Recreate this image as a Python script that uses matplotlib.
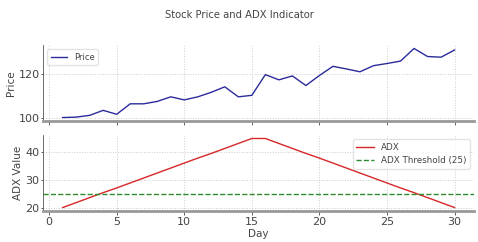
import matplotlib.pyplot as plt

# days and values
days = list(range(1, 31))
price = [100.0, 100.2, 101.0, 103.3, 101.5, 106.3, 106.3, 107.4, 109.5, 108.1,
         109.5, 111.6, 114.1, 109.5, 110.2, 119.7, 117.3, 119.1, 114.7, 119.3,
         123.5, 122.3, 121.0, 123.8, 124.8, 125.9, 131.7, 128.0, 127.7, 131.0]
adx = [20.0, 21.8, 23.6, 25.4, 27.1, 28.9, 30.7, 32.5, 34.3, 36.1,
       37.9, 39.6, 41.4, 43.2, 45.0, 45.0, 43.2, 41.4, 39.6, 37.9,
       36.1, 34.3, 32.5, 30.7, 28.9, 27.1, 25.4, 23.6, 21.8, 20.0]
threshold = 25

text_col = '#444444'
plt.rcParams['font.family'] = 'DejaVu Sans'
plt.rcParams['font.size'] = 7

fig = plt.figure(figsize=(4.78, 2.42), dpi=100)
ax1 = fig.add_axes([0.09, 0.50, 0.902, 0.314])
ax2 = fig.add_axes([0.09, 0.128, 0.902, 0.314], sharex=ax1)

ax1.plot(days, price, color='#2b2b9c', lw=1.0, label='Price')
ax2.plot(days, adx, color='#d62728', lw=1.0, label='ADX')
ax2.axhline(threshold, color='#2e8b2e', ls='--', lw=1.0, label='ADX Threshold (25)')

ax1.set_ylabel('Price', color=text_col, fontsize=7.5, labelpad=2)
ax2.set_ylabel('ADX Value', color=text_col, fontsize=7.5, labelpad=2)
ax2.set_xlabel('Day', color=text_col, fontsize=7.5, labelpad=1)
ax2.set_xticks([0, 5, 10, 15, 20, 25, 30])
ax2.set_yticks([20, 30, 40])
ax1.set_yticks([100, 120])
plt.setp(ax1.get_xticklabels(), visible=False)

for ax in (ax1, ax2):
    ax.grid(True, ls=':', color='#cccccc', lw=0.7)
    for s in ('top', 'right'):
        ax.spines[s].set_visible(False)
    ax.spines['left'].set_color('#555555')
    ax.spines['left'].set_linewidth(0.6)
    ax.spines['bottom'].set_color('#999999')
    ax.spines['bottom'].set_linewidth(2.0)
    ax.tick_params(axis='x', colors=text_col, labelsize=8, length=3, width=0.6, pad=1.5)
    ax.tick_params(axis='y', colors=text_col, labelsize=8, length=1.5, width=0.6, pad=1)

ax1.legend(loc='upper left', fontsize=6, frameon=True, edgecolor='#dddddd',
           labelcolor=text_col, handlelength=2)
ax2.legend(loc='upper right', fontsize=6.3, frameon=True, edgecolor='#dddddd',
           labelcolor=text_col, handlelength=2)

fig.text(0.5, 0.94, 'Stock Price and ADX Indicator', ha='center', va='center',
         color=text_col, fontsize=7.2)

fig.savefig('out.png', dpi=100)
